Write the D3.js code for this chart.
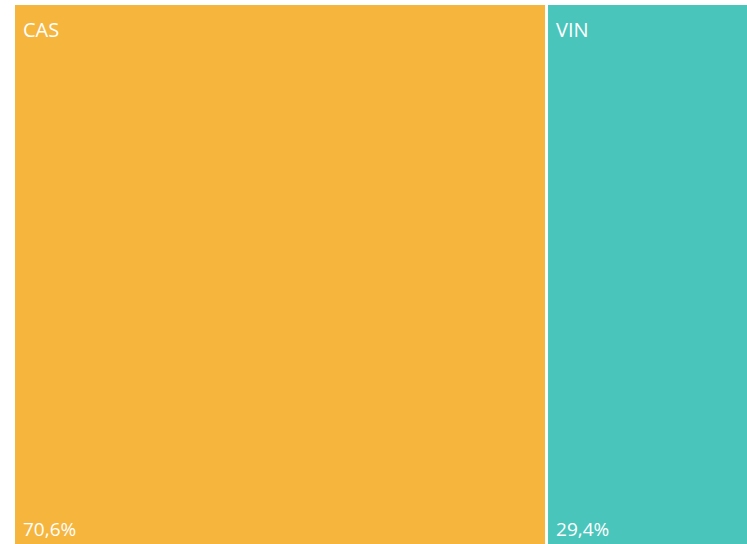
<!DOCTYPE html>
<html>
<head>
<meta charset="utf-8">
<script src="https://cdn.jsdelivr.net/npm/d3@7"></script>
<style>
  body { margin: 0; background: #fff; }
  svg { display: block; }
  text { font-family: "Open Sans", "Noto Sans", sans-serif; fill: #fff; }
</style>
</head>
<body>
<div id="chart"></div>
<script>
var categories = ["CAS", "VIN"];
var shares = [70.6, 29.4];
var colors = ["#F6B53D", "#4AC5BB"];

var width = 747, height = 544;
var margin = {top: 5, left: 15};

var svg = d3.select("#chart")
    .append("svg")
        .attr("width", width)
        .attr("height", height);

var root = d3.hierarchy({children: categories.map((c, i) => ({name: c, value: shares[i], color: colors[i]}))})
    .sum(d => d.value || 0);

// el área real sigue fuera de la ventana (recortada a la derecha y abajo)
d3.treemap()
    .tile(d3.treemapSliceDice)
    .size([752, 545])
    .paddingInner(3)(root);

var g = svg.append("g")
    .attr("transform", "translate(" + margin.left + "," + margin.top + ")");

var cell = g.selectAll("g.cell")
    .data(root.leaves())
    .enter().append("g")
        .attr("class", "cell")
        .attr("transform", d => "translate(" + d.x0 + "," + d.y0 + ")");

cell.append("rect")
    .attr("width", d => d.x1 - d.x0)
    .attr("height", d => d.y1 - d.y0)
    .attr("fill", d => d.data.color);

cell.append("text")
    .attr("x", 8)
    .attr("y", 32)
    .style("font-size", "20px")
    .text(d => d.data.name);

var fmt = d3.formatLocale({decimal: ",", thousands: ".", grouping: [3], currency: ["", "€"]}).format(".1f");

cell.append("text")
    .attr("x", 8)
    .attr("y", height - margin.top - 8)
    .style("font-size", "19px")
    .text(d => fmt(d.data.value) + "%");
</script>
</body>
</html>
